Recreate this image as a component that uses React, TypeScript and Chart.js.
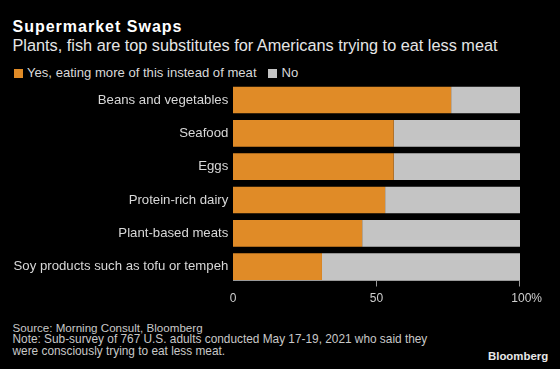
import React, { useEffect, useRef } from "react";
import { Chart, registerables } from "chart.js";

Chart.register(...registerables);

const categories = [
  "Beans and vegetables",
  "Seafood",
  "Eggs",
  "Protein-rich dairy",
  "Plant-based meats",
  "Soy products such as tofu or tempeh",
];
const seriesNames = ["Yes, eating more of this instead of meat", "No"];
const yesValues = [76, 56, 56, 53, 45, 31];
const noValues = [24, 44, 44, 47, 55, 69];
const xTickValues = [0, 50, 100];
const xTickLabels = ["0", "50", "    100%"];

const ORANGE = "#E08B27";
const GRAY = "#C4C4C4";
const FONT = "'Liberation Sans', Arial, sans-serif";

const axisPlugin = {
  id: "bbgAxis",
  afterDatasetsDraw(chart: any) {
    const meta = chart.getDatasetMeta(0);
    const bars = meta.data;
    if (!bars.length) return;
    const last = bars[bars.length - 1];
    const props = last.getProps(["y", "height"], true);
    const yAxis = Math.round(props.y + props.height / 2) + 0.5;
    const xs = chart.scales.x;
    const ctx = chart.ctx;
    ctx.save();
    ctx.strokeStyle = "#9a9a9a";
    ctx.lineWidth = 1;
    ctx.beginPath();
    ctx.moveTo(xs.left, yAxis);
    ctx.lineTo(xs.right, yAxis);
    for (const v of xTickValues) {
      if (v === 0) continue;
      const px = Math.round(xs.getPixelForValue(v)) - 0.5;
      ctx.moveTo(px, yAxis);
      ctx.lineTo(px, yAxis + 6);
    }
    ctx.stroke();
    ctx.restore();
  },
};

function BarChart() {
  const ref = useRef<HTMLCanvasElement | null>(null);
  useEffect(() => {
    if (!ref.current) return;
    const chart = new Chart(ref.current, {
      type: "bar",
      data: {
        labels: categories,
        datasets: [
          {
            label: seriesNames[0],
            data: yesValues,
            backgroundColor: ORANGE,
            barPercentage: 0.8,
            categoryPercentage: 1,
          },
          {
            label: seriesNames[1],
            data: noValues,
            backgroundColor: GRAY,
            barPercentage: 0.8,
            categoryPercentage: 1,
          },
        ],
      },
      options: {
        indexAxis: "y",
        responsive: false,
        animation: false,
        devicePixelRatio: 1,
        layout: { padding: { top: 3.33, right: 40, bottom: 0, left: 0 } },
        plugins: {
          legend: { display: false },
          tooltip: { enabled: false },
        },
        scales: {
          x: {
            stacked: true,
            min: 0,
            max: 100,
            grid: { display: false, drawTicks: false },
            border: { display: false },
            afterBuildTicks: (s: any) => {
              s.ticks = xTickValues.map((v) => ({ value: v }));
            },
            ticks: {
              padding: 8.5,
              color: "#cfcfcf",
              font: { family: FONT, size: 12 },
              maxRotation: 0,
              autoSkip: false,
              callback: (v: any) => xTickLabels[xTickValues.indexOf(Number(v))],
            },
            afterFit: (s: any) => {
              s.height = 26.67;
            },
          },
          y: {
            stacked: true,
            grid: { display: false, drawTicks: false },
            border: { display: false },
            ticks: {
              padding: 4.7,
              color: "#d8d8d8",
              font: { family: FONT, size: 13.2 },
              autoSkip: false,
            },
            afterFit: (s: any) => {
              s.width = 233;
              s.paddingTop = 0;
              s.paddingBottom = 0;
            },
          },
        },
      } as any,
      plugins: [axisPlugin],
    });
    return () => chart.destroy();
  }, []);
  return (
    <canvas
      ref={ref}
      width={560}
      height={230}
      style={{ position: "absolute", left: 0, top: 80, width: 560, height: 230, display: "block" }}
    />
  );
}

function Text(props: {
  x: number;
  baseline: number;
  size: number;
  color: string;
  bold?: boolean;
  spacing?: number;
  children: React.ReactNode;
}) {
  const top = props.baseline - 0.8465 * props.size;
  return (
    <div
      style={{
        position: "absolute",
        left: props.x,
        top,
        fontFamily: FONT,
        fontSize: props.size,
        lineHeight: `${props.size}px`,
        fontWeight: props.bold ? 700 : 400,
        color: props.color,
        whiteSpace: "nowrap",
        letterSpacing: props.spacing ? `${props.spacing}px` : undefined,
      }}
    >
      {props.children}
    </div>
  );
}

export default function App() {
  useEffect(() => {
    document.body.style.margin = "0";
    document.body.style.background = "#000";
  }, []);
  const colors = [ORANGE, GRAY];
  const legendX = [13.5, 268];
  return (
    <div style={{ position: "relative", width: 560, height: 369, background: "#000", overflow: "hidden" }}>
      <Text x={12.5} baseline={32.3} size={16} color="#ffffff" bold spacing={1.0}>
        Supermarket Swaps
      </Text>
      <Text x={12.5} baseline={50.7} size={16.3} color="#e6e6e6">
        Plants, fish are top substitutes for Americans trying to eat less meat
      </Text>
      {seriesNames.map((name, i) => (
        <React.Fragment key={name}>
          <div
            style={{
              position: "absolute",
              left: legendX[i],
              top: 68.5,
              width: 9,
              height: 9,
              background: colors[i],
            }}
          />
          <Text x={legendX[i] + 13.5} baseline={76.7} size={13.1} color="#d9d9d9">
            {name}
          </Text>
        </React.Fragment>
      ))}
      <BarChart />
      <Text x={12.5} baseline={331.7} size={11.6} color="#c8c8c8">
        Source: Morning Consult, Bloomberg
      </Text>
      <Text x={12.5} baseline={344.1} size={11.85} color="#c8c8c8">
        Note: Sub-survey of 767 U.S. adults conducted May 17-19, 2021 who said they
      </Text>
      <Text x={12.5} baseline={356.5} size={11.85} color="#c8c8c8">
        were consciously trying to eat less meat.
      </Text>
      <Text x={488} baseline={360.7} size={11.4} color="#e8e8e8" bold>
        Bloomberg
      </Text>
    </div>
  );
}
